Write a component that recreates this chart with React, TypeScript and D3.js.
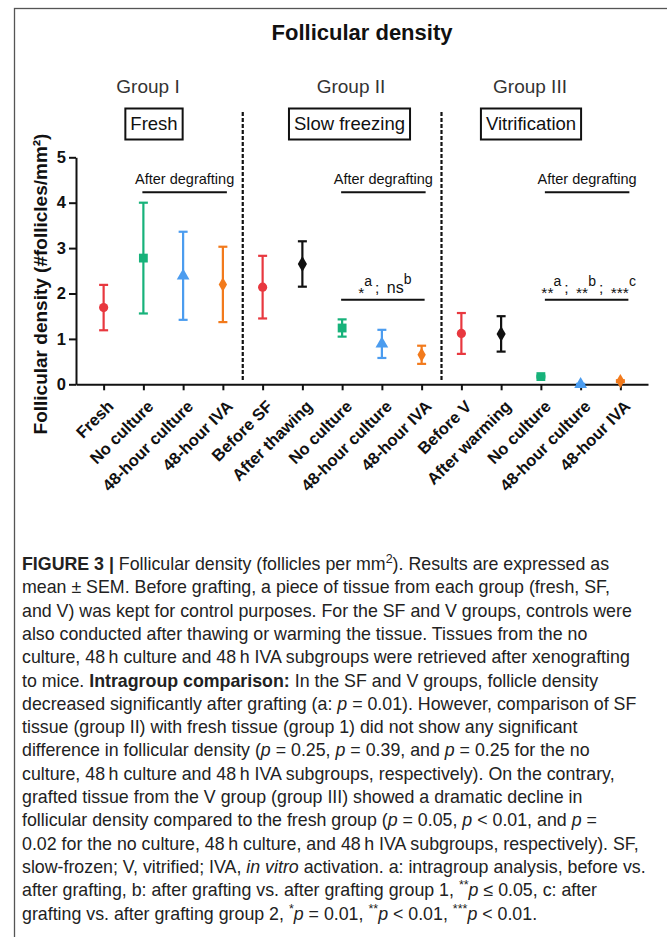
import * as d3 from "d3";
import { useEffect, useRef } from "react";

// one entry per plotted column, left to right
const categories = [
    "Fresh", "No culture", "48-hour culture", "48-hour IVA",
    "Before SF", "After thawing", "No culture", "48-hour culture", "48-hour IVA",
    "Before V", "After warming", "No culture", "48-hour culture", "48-hour IVA",
];
const treatments = [
    "control", "noCulture", "culture48", "iva48",
    "control", "postThaw", "noCulture", "culture48", "iva48",
    "control", "postThaw", "noCulture", "culture48", "iva48",
];
const means = [1.69, 2.78, 2.39, 2.2, 2.14, 2.65, 1.24, 0.89, 0.65, 1.12, 1.11, 0.17, 0.0, 0.07];
const sems = [0.5, 1.22, 0.97, 0.83, 0.69, 0.5, 0.19, 0.31, 0.2, 0.45, 0.39, 0.02, 0.01, 0.02];

const groupNames = ["Group I", "Group II", "Group III"];
const groupMethods = ["Fresh", "Slow freezing", "Vitrification"];
const groupLast = [3, 8, 13];
const degraftFirst = [1, 6, 11];

const yTicks = [0, 1, 2, 3, 4, 5];

const captionLines = [
    "[b]FIGURE 3 |[/b] Follicular density (follicles per mm[sup]2[/sup]). Results are expressed as",
    "mean ± SEM. Before grafting, a piece of tissue from each group (fresh, SF,",
    "and V) was kept for control purposes. For the SF and V groups, controls were",
    "also conducted after thawing or warming the tissue. Tissues from the no",
    "culture, 48\u2009h culture and 48\u2009h IVA subgroups were retrieved after xenografting",
    "to mice. [b]Intragroup comparison:[/b] In the SF and V groups, follicle density",
    "decreased significantly after grafting (a: [i]p[/i] = 0.01). However, comparison of SF",
    "tissue (group II) with fresh tissue (group 1) did not show any significant",
    "difference in follicular density ([i]p[/i] = 0.25, [i]p[/i] = 0.39, and [i]p[/i] = 0.25 for the no",
    "culture, 48\u2009h culture and 48\u2009h IVA subgroups, respectively). On the contrary,",
    "grafted tissue from the V group (group III) showed a dramatic decline in",
    "follicular density compared to the fresh group ([i]p[/i] = 0.05, [i]p[/i] < 0.01, and [i]p[/i] =",
    "0.02 for the no culture, 48\u2009h culture, and 48\u2009h IVA subgroups, respectively). SF,",
    "slow-frozen; V, vitrified; IVA, [i]in vitro[/i] activation. a: intragroup analysis, before vs.",
    "after grafting, b: after grafting vs. after grafting group 1, [sup]**[/sup][i]p[/i] ≤ 0.05, c: after",
    "grafting vs. after grafting group 2, [sup]*[/sup][i]p[/i] = 0.01, [sup]**[/sup][i]p[/i] < 0.01, [sup]***[/sup][i]p[/i] < 0.01.",
];

const colors = {
    control: "#e8383f",
    noCulture: "#17b27a",
    culture48: "#4b9cef",
    iva48: "#f27a1c",
    postThaw: "#111111",
};
const symbols = {
    control: { type: d3.symbolCircle, size: 66 },
    noCulture: { type: d3.symbolSquare, size: 78 },
    culture48: { type: d3.symbolTriangle, size: 70 },
    iva48: { type: d3.symbolDiamond, size: 60 },
    postThaw: { type: d3.symbolDiamond, size: 72 },
};

const sans = "'Liberation Sans', Arial, sans-serif";

const App = () => {
    const svgRef = useRef(null);
    const width = 667;
    const height = 937;

    useEffect(() => {
        const svg = d3.select(svgRef.current);
        svg.selectAll("*").remove();

        const plot = { left: 76, right: 648, top: 157.3, bottom: 384.3 };

        const x = d3.scalePoint()
            .domain(categories.map((_, i) => i))
            .range([plot.left, plot.right])
            .padding(0.695);

        const y = d3.scaleLinear()
            .domain([0, 5])
            .range([plot.bottom, plot.top]);

        // outer frame
        svg.append("rect")
            .attr("x", 14.5).attr("y", 8.5)
            .attr("width", 700).attr("height", 1000)
            .attr("fill", "none")
            .attr("stroke", "#555")
            .attr("stroke-width", 1.3);

        svg.append("text")
            .attr("x", 362).attr("y", 40)
            .attr("text-anchor", "middle")
            .attr("font-family", sans)
            .attr("font-weight", "bold")
            .attr("font-size", 22)
            .attr("fill", "#111")
            .text("Follicular density");

        // group headers
        const centers = [148, 351, 530];
        const boxCenters = [154, 349.5, 531];
        groupNames.forEach((name, i) => {
            svg.append("text")
                .attr("x", centers[i]).attr("y", 93)
                .attr("text-anchor", "middle")
                .attr("font-family", sans)
                .attr("font-size", 19)
                .attr("fill", "#333")
                .text(name);

            const t = svg.append("text")
                .attr("x", boxCenters[i]).attr("y", 129.5)
                .attr("text-anchor", "middle")
                .attr("font-family", sans)
                .attr("font-size", 18.5)
                .attr("fill", "#111")
                .text(groupMethods[i]);
            const bb = t.node().getBBox();
            svg.append("rect")
                .attr("x", bb.x - 5).attr("y", 108.5)
                .attr("width", bb.width + 10).attr("height", 31)
                .attr("fill", "none")
                .attr("stroke", "#111")
                .attr("stroke-width", 2);
        });

        // dashed separators between groups
        groupLast.slice(0, 2).forEach(i => {
            const sx = (x(i) + x(i + 1)) / 2;
            svg.append("line")
                .attr("x1", sx).attr("x2", sx)
                .attr("y1", 112).attr("y2", 380)
                .attr("stroke", "#111")
                .attr("stroke-width", 2.2)
                .attr("stroke-dasharray", "4,2");
        });

        // axes
        const yAxis = svg.append("g")
            .attr("transform", `translate(${plot.left},0)`)
            .call(d3.axisLeft(y).tickValues(yTicks).tickFormat(d3.format("d"))
                .tickSize(7).tickSizeOuter(0).tickPadding(3));
        yAxis.select(".domain").attr("stroke", "#111").attr("stroke-width", 2);
        yAxis.selectAll(".tick line").attr("stroke", "#111").attr("stroke-width", 2);
        yAxis.selectAll(".tick text")
            .attr("font-family", sans)
            .attr("font-weight", "bold")
            .attr("font-size", 16.5)
            .attr("fill", "#111");

        const xAxis = svg.append("g")
            .attr("transform", `translate(0,${plot.bottom})`)
            .call(d3.axisBottom(x).tickSize(6).tickSizeOuter(0).tickFormat(() => ""));
        xAxis.select(".domain").attr("stroke", "#111").attr("stroke-width", 2);
        xAxis.selectAll(".tick line").attr("stroke", "#111").attr("stroke-width", 2);

        svg.append("g")
            .selectAll("text")
            .data(categories)
            .join("text")
            .attr("transform", (_, i) => `translate(${x(i) + 7},${plot.bottom + 19}) rotate(-45)`)
            .attr("text-anchor", "end")
            .attr("dy", "0.35em")
            .attr("font-family", sans)
            .attr("font-weight", "bold")
            .attr("font-size", 16.5)
            .attr("fill", "#111")
            .text(d => d);

        svg.append("text")
            .attr("transform", `translate(47,284) rotate(-90)`)
            .attr("text-anchor", "middle")
            .attr("font-family", sans)
            .attr("font-weight", "bold")
            .attr("font-size", 19)
            .attr("fill", "#111")
            .text("Follicular density (#follicles/mm²)");

        // "After degrafting" brackets
        const shiftX = [0, 0, 5];
        groupLast.forEach((last, i) => {
            const x1 = x(degraftFirst[i]) + shiftX[i] - 1;
            const x2 = x(last) + shiftX[i] + 4;
            svg.append("line")
                .attr("x1", x1).attr("x2", x2)
                .attr("y1", y(4.23)).attr("y2", y(4.23))
                .attr("stroke", "#111").attr("stroke-width", 2);
            svg.append("text")
                .attr("x", (x1 + x2) / 2).attr("y", y(4.41))
                .attr("text-anchor", "middle")
                .attr("font-family", sans)
                .attr("font-size", 14.5)
                .attr("fill", "#111")
                .text("After degrafting");
        });

        // significance marks
        const sigMarks = [
            null,
            [["*", 5, 15.5], ["a", -12, 14], ["\u2009;\u2009 ", 7, 15.5], ["ns", 0, 16], ["b", -9, 14]],
            [["**", 5, 15.5], ["a", -12, 14], ["\u2009;\u2009 ", 7, 15.5], ["**", 5, 15.5], ["b", -12, 14],
                ["\u2009;\u2009 ", 7, 15.5], ["***", 5, 15.5], ["c", -12, 14]],
        ];
        sigMarks.forEach((parts, i) => {
            if (!parts) return;
            const x1 = x(degraftFirst[i]) + shiftX[i] - 1;
            const x2 = x(groupLast[i]) + shiftX[i] + 3;
            svg.append("line")
                .attr("x1", x1).attr("x2", x2)
                .attr("y1", y(1.86)).attr("y2", y(1.86))
                .attr("stroke", "#111").attr("stroke-width", 2);
            const t = svg.append("text")
                .attr("x", (x1 + x2) / 2 + 2).attr("y", y(2.02))
                .attr("text-anchor", "middle")
                .attr("font-family", sans)
                .attr("fill", "#111");
            parts.forEach(([s, dy, fs]) => {
                t.append("tspan").attr("dy", dy).attr("font-size", fs).text(s);
            });
        });

        // error bars
        const bars = svg.append("g");
        means.forEach((m, i) => {
            const c = colors[treatments[i]];
            const top = y(m + sems[i]);
            const bot = y(Math.max(0, m - sems[i]));
            const cx = x(i);
            bars.append("line").attr("x1", cx).attr("x2", cx).attr("y1", top).attr("y2", bot)
                .attr("stroke", c).attr("stroke-width", 2.2);
            [top, bot].forEach(v => {
                bars.append("line").attr("x1", cx - 4.5).attr("x2", cx + 4.5).attr("y1", v).attr("y2", v)
                    .attr("stroke", c).attr("stroke-width", 2.2);
            });
        });

        // markers
        svg.append("g")
            .selectAll("path")
            .data(means)
            .join("path")
            .attr("transform", (d, i) => `translate(${x(i)},${y(d)})`)
            .attr("d", (_, i) => {
                const s = symbols[treatments[i]];
                return d3.symbol().type(s.type).size(s.size)();
            })
            .attr("fill", (_, i) => colors[treatments[i]]);

        // caption
        const caption = svg.append("g");
        captionLines.forEach((line, li) => {
            const t = caption.append("text")
                .attr("x", 22).attr("y", 570 + li * 23.3)
                .attr("font-family", sans)
                .attr("font-size", 17.8)
                .attr("fill", "#222");
            line.split(/(\[b\].*?\[\/b\]|\[i\].*?\[\/i\]|\[sup\].*?\[\/sup\])/).forEach(seg => {
                if (!seg) return;
                const m = seg.match(/^\[(b|i|sup)\](.*)\[\/\1\]$/);
                const sp = t.append("tspan").text(m ? m[2] : seg);
                if (m && m[1] === "b") sp.attr("font-weight", "bold");
                if (m && m[1] === "i") sp.attr("font-style", "italic");
                if (m && m[1] === "sup") sp.attr("baseline-shift", "super").attr("font-size", 12.5);
            });
        });
    }, []);

    return (
        <svg
            ref={svgRef}
            width={width}
            height={height}
            style={{ position: "absolute", left: 0, top: 0, background: "#fff" }}
        />
    );
};

export default App;
